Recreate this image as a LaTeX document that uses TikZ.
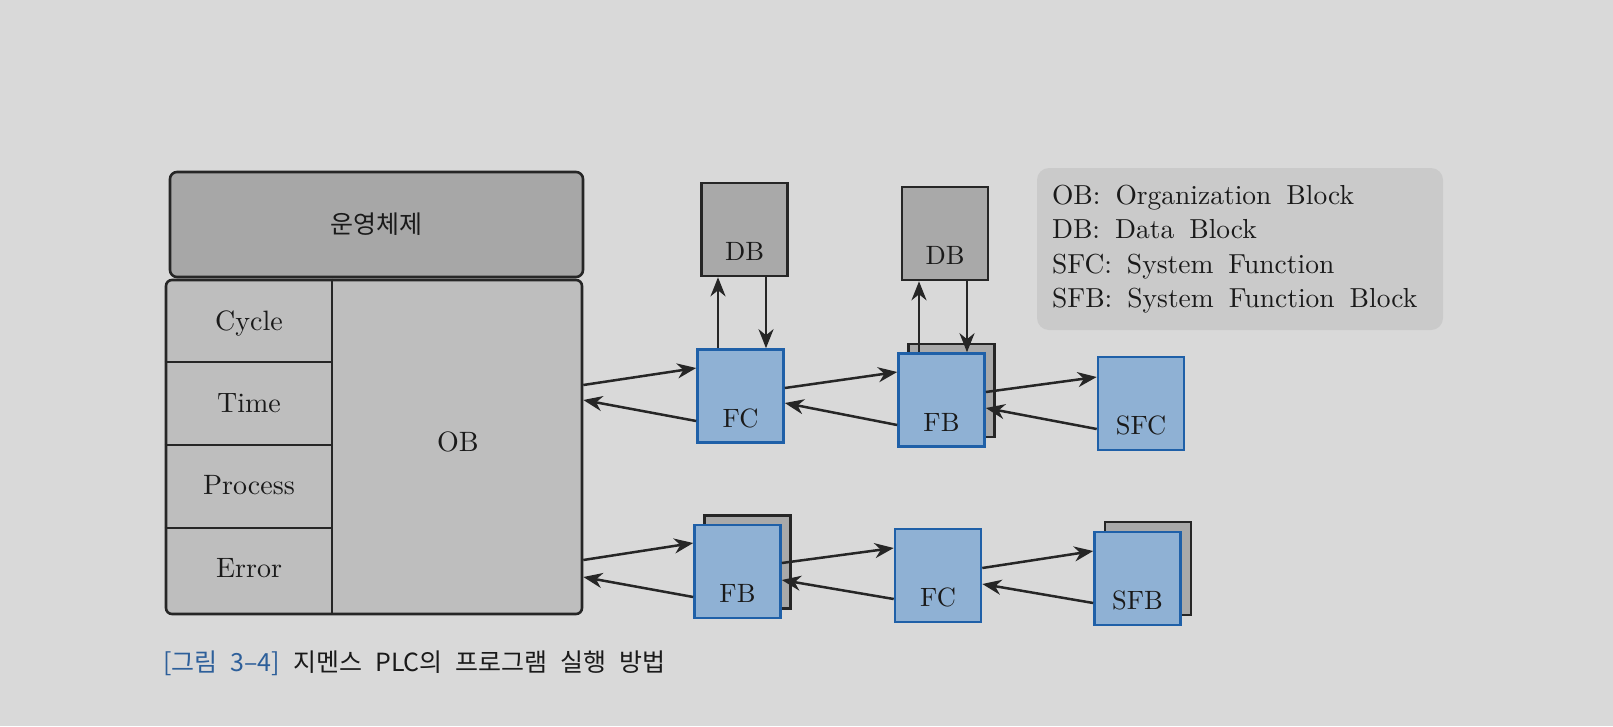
\documentclass[tikz,border=0pt]{standalone}
\usepackage{fontspec}
\setmainfont{lmroman10-regular.otf}
\newfontfamily\krfont{Noto Sans CJK KR}
\usetikzlibrary{arrows.meta,calc}
\definecolor{bg}{HTML}{D9D9D9}
\definecolor{linec}{HTML}{262626}
\definecolor{osgray}{HTML}{A7A7A7}
\definecolor{maingray}{HTML}{BEBEBE}
\definecolor{dbgray}{HTML}{A9A9A9}
\definecolor{bluefill}{HTML}{8FB1D4}
\definecolor{blueedge}{HTML}{1F60A8}
\definecolor{leggray}{HTML}{CACACA}
\definecolor{textc}{HTML}{1A1A1A}
\definecolor{capblue}{HTML}{2D5F9A}
\newcommand\legsp{\spaceskip=15pt plus 1pt\relax}
\newcommand\capsp{\spaceskip=13pt plus 1pt\relax}
\tikzset{
  osbox/.style={draw=linec, line width=2.6pt, fill=osgray, rounded corners=7pt,
    minimum width=413pt, minimum height=105pt, inner sep=0pt, text=textc,
    font=\krfont\fontsize{25}{30}\selectfont},
  mainbox/.style={draw=linec, line width=2.6pt, fill=maingray, rounded corners=6pt,
    minimum width=416pt, minimum height=334pt, inner sep=0pt},
  celltext/.style={anchor=base, text=textc, inner sep=0pt, font=\fontsize{28}{30}\selectfont},
  divline/.style={draw=linec, line width=2.4pt},
  lbl/.style={text=textc, yshift=-22pt, inner sep=0pt, font=\fontsize{26.5}{28}\selectfont},
  blkbase/.style={minimum width=86pt, minimum height=93pt, inner sep=0pt, line width=2.6pt},
  dbbox/.style={blkbase, draw=linec, fill=dbgray, label={[lbl]center:#1}},
  backbox/.style={blkbase, draw=linec, fill=dbgray},
  bluebox/.style={blkbase, draw=blueedge, fill=bluefill, label={[lbl]center:#1}},
  arr/.style={draw=linec, line width=2.5pt, -{Stealth[length=19pt,width=15pt,inset=6pt]}},
  legendbox/.style={fill=leggray, rounded corners=12pt, minimum width=406pt, minimum height=162pt,
    text width=376pt, inner xsep=15pt, inner ysep=0pt, align=left, text=textc,
    font=\fontsize{27.5}{34.5}\selectfont},
}
\begin{document}
\begin{tikzpicture}[x=1pt,y=-1pt]
\useasboundingbox (0,0) rectangle (1613,726);
\fill[bg] (0,0) rectangle (1613,726);

% operating system box
\node[osbox] (os) at (376.5,224.5) {운영체제};

% main box
\node[mainbox] (main) at (374,447) {};
\draw[divline] (332,0 |- main.north) -- (332,0 |- main.south);
\draw[divline] (main.west |- 0,362) -- (332,362);
\draw[divline] (main.west |- 0,445) -- (332,445);
\draw[divline] (main.west |- 0,528) -- (332,528);
\node[celltext] (cyc) at (249,330) {Cycle};
\node[celltext] (tim) at (249,412) {Time};
\node[celltext] (proc) at (249,494) {Process};
\node[celltext] (err) at (249,577) {Error};
\node[celltext] (ob) at (458,451) {OB};

% top row
\node[dbbox=DB] (db1) at (744.5,229.5) {};
\node[bluebox=FC] (fc1) at (740.5,396) {};
\node[dbbox=DB] (db2) at (945,233.5) {};
\node[backbox] (fb1b) at (951.5,390.5) {};
\node[bluebox=FB] (fb1) at (941.5,400) {};
\node[bluebox=SFC] (sfc) at (1141,403.5) {};

% bottom row
\node[backbox] (fb2b) at (747.5,562) {};
\node[bluebox=FB] (fb2) at (737.5,571.5) {};
\node[bluebox=FC] (fc2) at (938,575.5) {};
\node[backbox] (sfbb) at (1148,568.5) {};
\node[bluebox=SFB] (sfb) at (1137.5,578.5) {};

% legend
\node[legendbox] (leg) at (1240,249) {\legsp OB:\ Organization Block\\\legsp DB:\ Data Block\\\legsp SFC:\ System Function\\\legsp SFB:\ System Function Block};

% caption
\node[anchor=base west, inner sep=0pt, text=textc, font=\krfont\fontsize{25}{29}\selectfont] (cap) at (163,671) {\capsp\textcolor{capblue}{[그림 3–4]} 지멘스 PLC의 프로그램 실행 방법};

% connectors, top row
\draw[arr] (main.east |- 0,385) -- (fc1.west |- 0,368);
\draw[arr] (fc1.west |- 0,421) -- (main.east |- 0,400);
\draw[arr] (fc1.north -| 718,0) -- (db1.south -| 718,0);
\draw[arr] (db1.south -| 766,0) -- (fc1.north -| 766,0);
\draw[arr] (fc1.east |- 0,388) -- (fb1.west |- 0,372);
\draw[arr] (fb1.west |- 0,425) -- (fc1.east |- 0,403);
\draw[arr] (fb1.north -| 919,0) -- (db2.south -| 919,0);
\draw[arr] (db2.south -| 967,0) -- (fb1.north -| 967,0);
\draw[arr] (fb1.east |- 0,392) -- (sfc.west |- 0,377);
\draw[arr] (sfc.west |- 0,429) -- (fb1.east |- 0,408);

% connectors, bottom row
\draw[arr] (main.east |- 0,560) -- (fb2.west |- 0,543);
\draw[arr] (fb2.west |- 0,597) -- (main.east |- 0,577);
\draw[arr] (fb2.east |- 0,563) -- (fc2.west |- 0,548);
\draw[arr] (fc2.west |- 0,599) -- (fb2.east |- 0,580);
\draw[arr] (fc2.east |- 0,568) -- (sfb.west |- 0,551);
\draw[arr] (sfb.west |- 0,603) -- (fc2.east |- 0,584);
\end{tikzpicture}
\end{document}
